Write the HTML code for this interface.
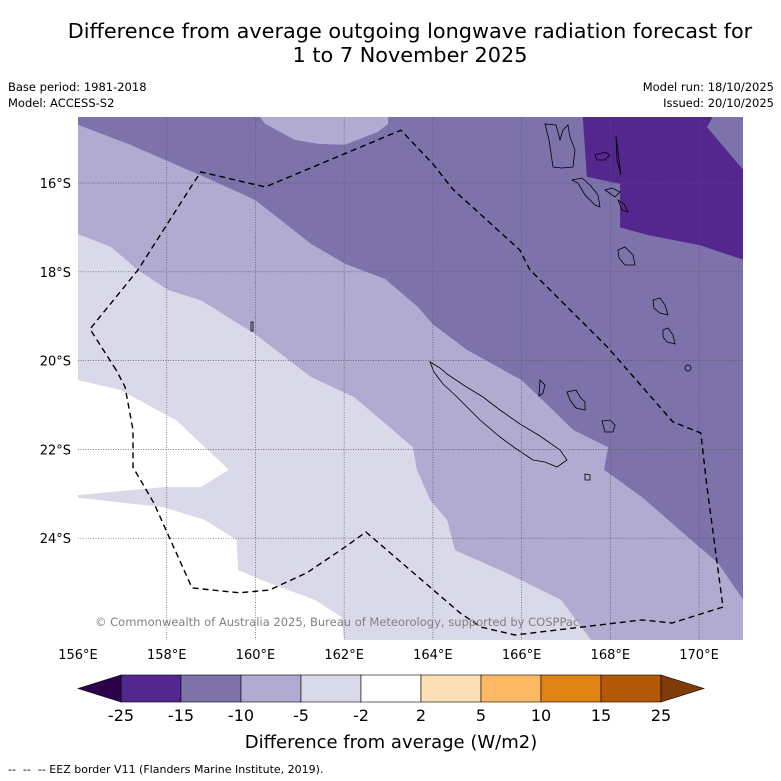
<!DOCTYPE html>
<html><head><meta charset="utf-8"><style>
html,body{margin:0;padding:0;background:#fff;}
body{width:781px;height:781px;position:relative;overflow:hidden;font-family:"DejaVu Sans","Liberation Sans",sans-serif;}
.t{position:absolute;white-space:nowrap;color:#000;}
</style></head><body>
<div class="t" style="left:0;width:820px;text-align:center;top:19px;font-size:20.8px;line-height:24px;">Difference from average outgoing longwave radiation forecast for<br>1 to 7 November 2025</div>
<div class="t" style="left:8px;top:80px;font-size:11.5px;">Base period: 1981-2018</div>
<div class="t" style="left:8px;top:96px;font-size:11.5px;">Model: ACCESS-S2</div>
<div class="t" style="right:7px;top:80px;font-size:11.5px;">Model run: 18/10/2025</div>
<div class="t" style="right:7px;top:96px;font-size:11.5px;">Issued: 20/10/2025</div>
<div class="t" style="left:8px;top:763px;font-size:11px;">-- &nbsp;-- &nbsp;-- EEZ border V11 (Flanders Marine Institute, 2019).</div>
<svg id="chart" width="781" height="781" style="position:absolute;left:0;top:0" xmlns="http://www.w3.org/2000/svg">
<defs><clipPath id="clip"><rect x="78" y="117" width="665" height="523"/></clipPath></defs>
<g id="map" clip-path="url(#clip)"></g>
<g id="axes"></g>
<g id="cbar"></g>
</svg>
<script>
// colorbar data
const levels=[-25,-15,-10,-5,-2,2,5,10,15,25];
const colors=["#54278f","#7e72ab","#b1aad1","#d9d9ea","#ffffff","#fee0b6","#fdb863","#e08214","#b35806"];
const extLow="#2d004b", extHigh="#7f3b08";
const lonTicks=[156,158,160,162,164,166,168,170];
const latTicks=[16,18,20,22,24];
// contour regions (lon, lat south)
const regionMid15=[[156,14.51],[160.10,14.51],[160.22,14.67],[160.89,15.03],[161.41,15.12],[162.02,15.14],[162.76,14.85],[162.99,14.67],[162.99,14.51],[171,14.51],[171,25.39],[170.43,24.56],[169.57,23.82],[168.71,23.07],[167.86,22.46],[167.95,21.95],[167.16,21.56],[166.64,21.05],[166.0,20.44],[164.77,19.76],[164.0,19.18],[163.66,18.79],[162.92,18.16],[162.02,17.82],[161.25,17.37],[159.99,16.38],[159.0,15.93],[157.96,15.48],[157.13,15.12],[156,14.69]];
const regionMid25=[[167.38,14.51],[167.47,15.86],[168.22,16.02],[168.22,17.0],[168.83,17.17],[170.02,17.40],[171,17.73],[171,15.71],[170.18,14.74],[170.31,14.51]];
const regionLow5=[[156,17.15],[156.74,17.44],[157.35,17.96],[158.03,18.41],[158.77,18.64],[159.38,19.02],[159.99,19.40],[161.25,20.37],[162.22,20.82],[163.55,21.95],[163.64,22.46],[163.94,23.14],[164.32,23.59],[164.50,24.27],[165.65,24.78],[166.89,25.39],[167.65,26.4],[156,26.4]];
const regionWhiteA=[[156,20.44],[156.95,20.66],[158.21,21.34],[158.86,21.95],[159.40,22.46],[158.77,22.85],[157.92,22.85],[156,23.03]];
const regionWhiteB=[[156,23.09],[157.92,23.30],[158.86,23.59],[159.58,24.04],[159.61,24.72],[160.31,25.01],[161.34,25.39],[161.93,25.77],[162.02,26.4],[156,26.4]];
const eez=[[156.86,20.21],[156.27,19.29],[157.35,17.96],[158.59,16.02],[158.77,15.75],[160.22,16.09],[163.28,14.81],[164.0,15.57],[164.45,16.14],[165.96,17.51],[166.19,17.96],[167.93,19.69],[169.41,21.38],[170.04,21.63],[170.18,22.85],[170.54,25.55],[169.39,25.91],[168.71,25.84],[165.85,26.18],[165.08,26.0],[164.61,25.68],[162.49,23.86],[162.02,24.20],[161.16,24.78],[160.31,25.17],[159.63,25.23],[158.57,25.12],[157.71,23.21],[157.24,22.40],[157.24,21.56],[157.06,20.59],[156.86,20.21]];

const X=lon=>78+(lon-156)*44.36;
const Y=lat=>183+(lat-16)*44.4;
const NS="http://www.w3.org/2000/svg";
function mk(tag,attrs,parent){const e=document.createElementNS(NS,tag);for(const k in attrs)e.setAttribute(k,attrs[k]);parent.appendChild(e);return e;}
const pts=a=>a.map(p=>X(p[0]).toFixed(1)+","+Y(p[1]).toFixed(1)).join(" ");
const map=document.getElementById('map');
let r=mk('rect',{x:78,y:117,width:665,height:523,fill:colors[2]},map);


const regs=[[regionMid15,colors[1],'contour-minus15'],[regionMid25,colors[0],'contour-minus25'],[regionLow5,colors[3],'contour-minus5'],[regionWhiteA,colors[4],'contour-neutral-a'],[regionWhiteB,colors[4],'contour-neutral-b']];
regs.forEach(g=>{const p=mk('polygon',{points:pts(g[0]),fill:g[1]},map);

});
// islands (coastlines)
const islands=["545,124 549,140 553,167 562,168 573,167 575,150 570,137 568,125 563,130 560,140 556,125","572,180 578,183 585,195 595,205 600,207 598,195 590,185 582,178","595,155 605,152 610,155 605,160 597,160","616,136 619,160 621,175 617,160","605,190 612,188 620,192 615,197","618,200 622,210 628,212 624,204","618,250 625,247 633,255 635,265 625,265 619,258","653,300 660,298 665,305 668,315 660,313 654,308","663,330 668,328 673,335 675,344 667,342 663,337","430,362 440,368 447,374 465,386 483,397 500,410 520,424 540,436 560,450 567,460 557,467 545,462 533,460 515,448 500,437 480,420 467,407 455,395 443,384 434,372","540,380 545,385 543,393 539,396","567,392 576,390 580,397 585,402 585,410 576,408 570,400","602,421 610,420 615,425 613,432 605,432","585,474 590,475 590,480 585,480","251,322 253,322 253,331 251,331"];
islands.forEach((s,i)=>{const p=mk('polygon',{points:s,fill:'none',stroke:'#000','stroke-width':0.8},map);

});
const c=mk('circle',{cx:688,cy:368,r:3,fill:'none',stroke:'#000','stroke-width':0.8},map);


// gridlines
lonTicks.forEach(l=>{if(l===156)return;const g=mk('line',{x1:X(l),x2:X(l),y1:117,y2:640,stroke:'#555','stroke-width':0.7,'stroke-dasharray':'1,1.5'},map);

});
latTicks.forEach(l=>{const g=mk('line',{x1:78,x2:743,y1:Y(l),y2:Y(l),stroke:'#555','stroke-width':0.7,'stroke-dasharray':'1,1.5'},map);

});
// EEZ
const ez=mk('polyline',{points:pts(eez),fill:'none',stroke:'#000','stroke-width':1.4,'stroke-dasharray':'6,4'},map);


const cp=mk('text',{x:95,y:626,'font-size':11.5,fill:'#808080','font-family':'DejaVu Sans, Liberation Sans, sans-serif'},map);
cp.textContent='© Commonwealth of Australia 2025, Bureau of Meteorology, supported by COSPPac';


// axes labels
const axes=document.getElementById('axes');
lonTicks.forEach(l=>{const t=mk('text',{x:X(l),y:659,'text-anchor':'middle','font-size':13,'font-family':'DejaVu Sans, Liberation Sans, sans-serif'},axes);t.textContent=l+'°E';

});
latTicks.forEach(l=>{const t=mk('text',{x:71,y:Y(l)+5,'text-anchor':'end','font-size':13,'font-family':'DejaVu Sans, Liberation Sans, sans-serif'},axes);t.textContent=l+'°S';

});
// colorbar
const cb=document.getElementById('cbar');
const cx0=121,cw=60,cy=675,ch=27;
colors.forEach((col,i)=>{const s=mk('rect',{x:cx0+i*cw,y:cy,width:cw,height:ch,fill:col,stroke:'#000','stroke-width':0.6},cb);

});
const lo=mk('polygon',{points:`${cx0},${cy} 78,${cy+ch/2} ${cx0},${cy+ch}`,fill:extLow,stroke:'#000','stroke-width':0.6},cb);


const xe=cx0+colors.length*cw;
const hi=mk('polygon',{points:`${xe},${cy} ${xe+43},${cy+ch/2} ${xe},${cy+ch}`,fill:extHigh,stroke:'#000','stroke-width':0.6},cb);


levels.forEach((v,i)=>{const t=mk('text',{x:cx0+i*cw,y:721,'text-anchor':'middle','font-size':16,'font-family':'DejaVu Sans, Liberation Sans, sans-serif'},cb);t.textContent=v;

});
const ct=mk('text',{x:391,y:748,'text-anchor':'middle','font-size':18,'font-family':'DejaVu Sans, Liberation Sans, sans-serif'},cb);
ct.textContent='Difference from average (W/m2)';


</script>
</body></html>
